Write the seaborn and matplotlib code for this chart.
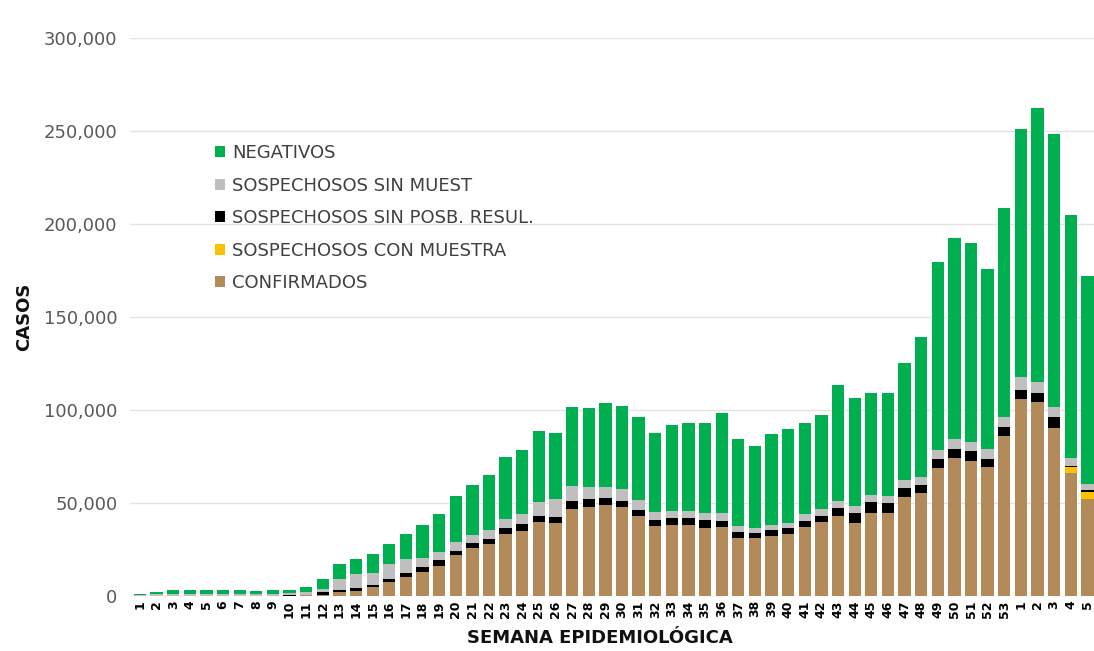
import numpy as np
import pandas as pd
import matplotlib
matplotlib.use('Agg')
import matplotlib.pyplot as plt
from matplotlib.patches import Patch
from matplotlib.ticker import FuncFormatter
import seaborn as sns

# semanas epidemiologicas 2020 (1-53) y 2021 (1-5)
semanas = [str(i) for i in range(1, 54)] + ['1', '2', '3', '4', '5']

# valores en miles de casos
confirmados = [0.02, 0.05, 0.05, 0.08, 0.1, 0.1, 0.1, 0.12, 0.15, 0.25,
               0.4, 0.8, 2.0, 2.9, 4.7, 7.4, 10.1, 13.1, 16.3, 22.0,
               25.6, 28.0, 33.3, 34.9, 40.0, 39.1, 46.8, 48.0, 49.1, 47.8,
               43.2, 37.8, 38.2, 38.2, 36.7, 37.1, 31.4, 31.0, 32.3, 33.2,
               37.3, 39.6, 43.2, 39.5, 44.8, 44.8, 53.1, 55.6, 68.8, 74.0,
               72.4, 69.2, 86.0, 106.1, 104.3, 90.1, 66.0, 52.3]
con_muestra = [0] * 56 + [3.2, 3.8]
sin_posb_resul = [0, 0, 0, 0, 0, 0, 0, 0, 0, 0.05,
                  0.2, 1.2, 1.2, 1.6, 1.2, 1.6, 2.1, 2.7, 3.1, 2.2,
                  2.7, 2.6, 3.1, 3.6, 3.0, 3.6, 4.5, 4.0, 3.8, 3.3,
                  3.0, 3.1, 3.6, 3.6, 4.0, 3.4, 3.0, 3.0, 3.2, 3.2,
                  3.2, 3.6, 4.1, 5.1, 5.9, 5.0, 4.8, 4.1, 4.7, 4.9,
                  5.6, 4.6, 5.0, 4.7, 4.7, 5.9, 0.8, 0.7]
sin_muest = [0.28, 0.85, 1.05, 1.12, 1.0, 1.0, 1.0, 1.0, 1.05, 1.1,
             1.4, 1.8, 5.8, 7.1, 6.6, 8.0, 7.5, 4.8, 4.4, 4.7,
             4.5, 4.9, 5.2, 5.4, 7.7, 9.3, 8.0, 6.4, 5.5, 6.3,
             5.4, 4.4, 4.1, 3.7, 3.8, 4.3, 3.2, 2.7, 2.7, 3.0,
             3.6, 3.4, 3.7, 3.6, 3.6, 4.0, 4.5, 4.4, 5.0, 5.5,
             4.8, 5.2, 5.4, 7.1, 5.9, 5.4, 4.2, 3.2]
negativos = [0.8, 1.4, 1.9, 2.2, 1.9, 1.9, 1.9, 1.6, 1.8, 2.0,
             3.1, 5.6, 8.0, 8.3, 9.9, 11.1, 13.5, 17.7, 20.5, 24.9,
             27.0, 29.4, 33.0, 34.6, 38.0, 35.8, 42.5, 42.5, 45.5, 44.9,
             44.8, 42.5, 46.0, 47.3, 48.5, 53.4, 46.6, 43.8, 48.7, 50.2,
             48.7, 50.7, 62.4, 58.1, 55.0, 55.4, 62.7, 75.1, 101.1, 108.1,
             107.2, 96.8, 112.0, 133.4, 147.6, 147.2, 130.5, 112.2]

series = ['CONFIRMADOS', 'SOSPECHOSOS CON MUESTRA', 'SOSPECHOSOS SIN POSB. RESUL.',
          'SOSPECHOSOS SIN MUEST', 'NEGATIVOS']
colores = ['#B38B5A', '#FFC000', '#000000', '#BFBFBF', '#00B050']

df = pd.DataFrame({
    'pos': np.arange(len(semanas)),
    'CONFIRMADOS': confirmados,
    'SOSPECHOSOS CON MUESTRA': con_muestra,
    'SOSPECHOSOS SIN POSB. RESUL.': sin_posb_resul,
    'SOSPECHOSOS SIN MUEST': sin_muest,
    'NEGATIVOS': negativos,
})
# acumulado para apilar (en casos)
acum = df[series].cumsum(axis=1) * 1000

sns.set_style('white')
plt.rcParams['font.family'] = ['DejaVu Sans']

fig = plt.figure(figsize=(10.94, 6.51), dpi=100)
ax = fig.add_axes([130 / 1094, 55 / 651, 964 / 1094, 558 / 651])

# se dibuja de la capa superior a la inferior
for s, c in zip(series[::-1], colores[::-1]):
    sns.barplot(x=df['pos'], y=acum[s], color=c, width=0.74,
                linewidth=0, saturation=1, ax=ax, zorder=3)

ax.set_ylim(0, 300000)
ax.set_xlim(-0.6, 57.4)
ax.set_yticks(np.arange(0, 300001, 50000))
ax.yaxis.set_major_formatter(FuncFormatter(lambda v, p: f'{int(v):,}'))
ax.grid(axis='y', color='#E3E3E3', linewidth=1, zorder=0)
ax.grid(axis='x', visible=False)
for sp in ax.spines.values():
    sp.set_visible(False)

ax.set_xticks(df['pos'])
ax.set_xticklabels(semanas, rotation=90, fontsize=9, fontweight='bold', color='#000000')
ax.tick_params(axis='y', labelsize=13, colors='#595959', length=0, pad=9)
ax.tick_params(axis='x', length=0, pad=3)

ax.set_xlabel('SEMANA EPIDEMIOLÓGICA', fontsize=13, fontweight='bold', color='#111111')
ax.xaxis.set_label_coords(0.4876, -0.06)
ax.set_ylabel('CASOS', fontsize=13, fontweight='bold', color='#111111', labelpad=8)

handles = [Patch(facecolor=c, edgecolor='none') for c in colores[::-1]]
ax.legend(handles, series[::-1], loc='upper left', bbox_to_anchor=(199 / 1094, 1 - 128 / 651),
          bbox_transform=fig.transFigure, frameon=False, fontsize=13,
          handlelength=0.55, handleheight=0.55, handletextpad=0.4,
          labelspacing=0.8, labelcolor='#404040')

fig.savefig('out.png', dpi=100)
